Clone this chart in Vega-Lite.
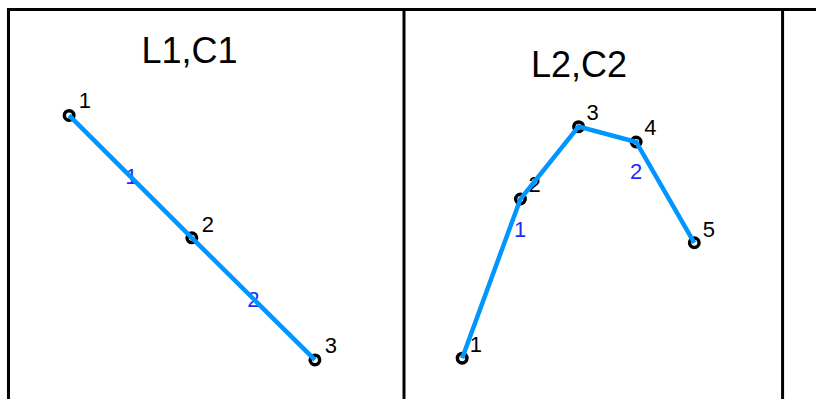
{
  "$schema": "https://vega.github.io/schema/vega-lite/v6.json",
  "width": 818,
  "height": 401,
  "padding": 0,
  "autosize": {"type": "fit", "contains": "padding"},
  "background": "white",
  "config": {"view": {"stroke": null}},
  "encoding": {
    "x": {"type": "quantitative", "scale": {"domain": [0, 818], "nice": false, "zero": false}, "axis": null},
    "y": {"type": "quantitative", "scale": {"domain": [0, 401], "nice": false, "zero": false, "reverse": true}, "axis": null}
  },
  "layer": [
    {
      "data": {"values": [
        {"x": 7, "x2": 818, "y": 9.5, "y2": 9.5},
        {"x": 8.5, "x2": 8.5, "y": 8, "y2": 401},
        {"x": 405, "x2": 405, "y": 8, "y2": 401},
        {"x": 784.5, "x2": 784.5, "y": 8, "y2": 401}
      ]},
      "mark": {"type": "rule", "color": "black", "strokeWidth": 3},
      "encoding": {
        "x": {"field": "x", "type": "quantitative"},
        "x2": {"field": "x2"},
        "y": {"field": "y", "type": "quantitative"},
        "y2": {"field": "y2"}
      }
    },
    {
      "data": {"values": [
        {"title": "L1,C1", "x": 190, "y": 63.3},
        {"title": "L2,C2", "x": 580.5, "y": 77.3}
      ]},
      "mark": {"type": "text", "font": "Liberation Sans", "fontSize": 36, "align": "center", "baseline": "alphabetic", "color": "black"},
      "encoding": {
        "x": {"field": "x", "type": "quantitative"},
        "y": {"field": "y", "type": "quantitative"},
        "text": {"field": "title"}
      }
    },
    {
      "data": {"values": [
        {"label": "1", "x": 85, "y": 108.3},
        {"label": "2", "x": 208.3, "y": 232.7},
        {"label": "3", "x": 331.7, "y": 355},
        {"label": "1", "x": 477, "y": 353.3},
        {"label": "2", "x": 536, "y": 193},
        {"label": "3", "x": 594, "y": 120.7},
        {"label": "4", "x": 652, "y": 136},
        {"label": "5", "x": 710.7, "y": 237.7}
      ]},
      "mark": {"type": "text", "font": "Liberation Sans", "fontSize": 22, "align": "center", "baseline": "alphabetic", "color": "black"},
      "encoding": {
        "x": {"field": "x", "type": "quantitative"},
        "y": {"field": "y", "type": "quantitative"},
        "text": {"field": "label"}
      }
    },
    {
      "data": {"values": [
        {"label": "1", "x": 131.7, "y": 185},
        {"label": "2", "x": 254, "y": 308.3},
        {"label": "1", "x": 521.3, "y": 237.7},
        {"label": "2", "x": 637.7, "y": 180}
      ]},
      "mark": {"type": "text", "font": "Liberation Sans", "fontSize": 22, "align": "center", "baseline": "alphabetic", "color": "#1f2bff"},
      "encoding": {
        "x": {"field": "x", "type": "quantitative"},
        "y": {"field": "y", "type": "quantitative"},
        "text": {"field": "label"}
      }
    },
    {
      "data": {"name": "pts", "values": [
        {"panel": "L1", "seq": 1, "x": 69.3, "y": 116},
        {"panel": "L1", "seq": 2, "x": 192.3, "y": 239},
        {"panel": "L1", "seq": 3, "x": 315.7, "y": 361.7},
        {"panel": "L2", "seq": 1, "x": 463.3, "y": 360},
        {"panel": "L2", "seq": 2, "x": 521.7, "y": 200},
        {"panel": "L2", "seq": 3, "x": 580, "y": 127.3},
        {"panel": "L2", "seq": 4, "x": 637.7, "y": 142.7},
        {"panel": "L2", "seq": 5, "x": 696, "y": 244}
      ]},
      "layer": [
        {
          "mark": {"type": "point", "shape": "circle", "size": 90, "filled": false, "stroke": "black", "strokeWidth": 3.5, "fill": "white", "fillOpacity": 1, "opacity": 1},
          "encoding": {
            "x": {"field": "x", "type": "quantitative"},
            "y": {"field": "y", "type": "quantitative"}
          }
        },
        {
          "mark": {"type": "line", "color": "#0096ff", "strokeWidth": 4.5, "strokeCap": "butt", "strokeJoin": "miter"},
          "encoding": {
            "x": {"field": "x", "type": "quantitative"},
            "y": {"field": "y", "type": "quantitative"},
            "detail": {"field": "panel"},
            "order": {"field": "seq", "type": "quantitative"}
          }
        }
      ]
    }
  ]
}
